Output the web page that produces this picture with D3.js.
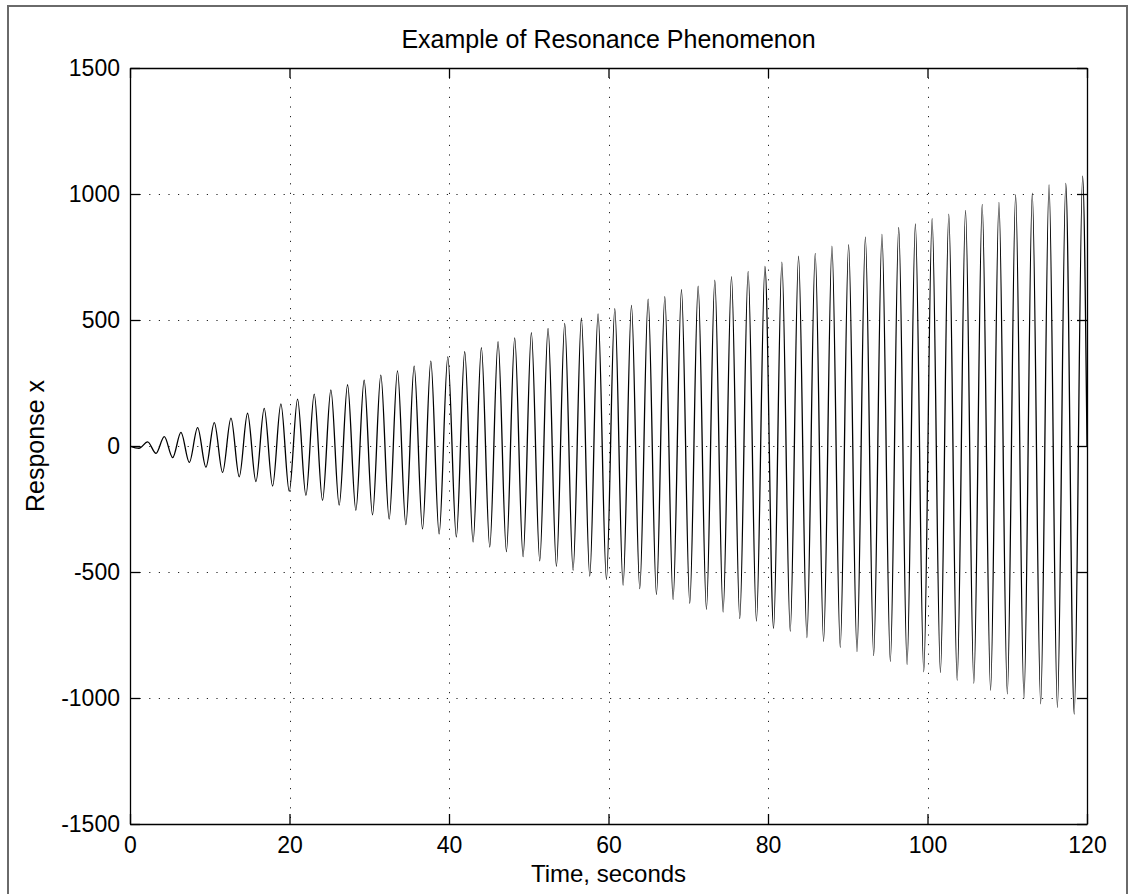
<!DOCTYPE html>
<html>
<head>
<meta charset="utf-8">
<script src="https://cdn.jsdelivr.net/npm/d3@7"></script>
<style>
  html, body { margin: 0; padding: 0; background: #fff; }
  svg { display: block; }
  text { font-family: "Liberation Sans", Arial, Helvetica, sans-serif; fill: #000; }
</style>
</head>
<body>
<svg id="chart" width="1134" height="894"></svg>
<script>
// Extrema (local peaks/troughs) of the response
const timeSeconds = [
  0, 1.13, 2.21, 3.26, 4.30, 5.35, 6.39, 7.44, 8.48, 9.52, 10.57, 11.61, 12.66, 13.70, 14.74,
  15.79, 16.83, 17.88, 18.92, 19.97, 21.01, 22.06, 23.10, 24.14, 25.19, 26.23, 27.28, 28.32,
  29.36, 30.41, 31.45, 32.50, 33.54, 34.59, 35.63, 36.68, 37.72, 38.76, 39.85,
  40.92, 41.97, 43.02, 44.06, 45.11, 46.15, 47.20, 48.24, 49.29, 50.33, 51.38, 52.42, 53.47,
  54.51, 55.56, 56.60, 57.65, 58.69, 59.74, 60.79, 61.83, 62.88, 63.92, 64.97, 66.01, 67.06,
  68.10, 69.15, 70.19, 71.24, 72.28, 73.33, 74.37, 75.42, 76.46, 77.51, 78.55, 79.62,
  80.70, 81.74, 82.79, 83.83, 84.88, 85.92, 86.97, 88.02, 89.06, 90.11, 91.16, 92.21, 93.25,
  94.29, 95.34, 96.39, 97.44, 98.48, 99.53, 100.58, 101.62, 102.67, 103.72, 104.77, 105.81,
  106.86, 107.91, 108.96, 110.01, 111.05, 112.10, 113.14, 114.19, 115.24, 116.29, 117.34,
  118.40, 119.45, 120
];
const responseX = [
  0, -9, 16, -29, 37, -46, 54, -65, 73, -84, 93, -105, 111, -122, 130,
  -141, 149, -159, 167, -180, 186, -196, 206, -216, 223, -235, 243, -255,
  261, -273, 281, -290, 298, -312, 317, -329, 337, -349, 354,
  -361, 374, -381, 390, -401, 414, -419, 429, -439, 450, -456, 467, -478,
  487, -493, 507, -516, 524, -529, 545, -552, 558, -566, 583, -589, 593,
  -609, 620, -624, 634, -648, 658, -659, 672, -685, 693, -695, 713,
  -724, 730, -735, 753, -760, 764, -775, 793, -799, 799, -816, 829, -832,
  840, -855, 867, -867, 881, -896, 902, -899, 920, -930, 935, -942,
  959, -970, 967, -984, 997, -1001, 1003, -1023, 1036, -1038, 1042,
  -1064, 1071, 0
];
const xTicks = [0, 20, 40, 60, 80, 100, 120];
const yTicks = [-1500, -1000, -500, 0, 500, 1000, 1500];
const titleText = "Example of Resonance Phenomenon";
const xLabelText = "Time, seconds";
const yLabelText = "Response x";

const svg = d3.select("#chart");
const W = 1134, H = 894;
const L = 130, R = 1087, T = 68, B = 824;

svg.append("rect").attr("width", W).attr("height", H).attr("fill", "#fff");
// figure frame
svg.append("path")
  .attr("d", `M8,${H} L8,6 L1127,6 L1127,${H}`)
  .attr("fill", "none").attr("stroke", "#6a6a6a").attr("stroke-width", 2);

const x = d3.scaleLinear().domain([0, 120]).range([L, R]);
const y = d3.scaleLinear().domain([-1500, 1500]).range([B, T]);

// grid
const grid = svg.append("g").attr("stroke", "#222").attr("stroke-width", 1)
  .attr("stroke-dasharray", "1.2 8.4");
grid.selectAll(".gx").data(xTicks).join("line")
  .attr("x1", d => Math.round(x(d)) + 0.5).attr("x2", d => Math.round(x(d)) + 0.5)
  .attr("y1", T).attr("y2", B);
grid.selectAll(".gy").data(yTicks).join("line")
  .attr("y1", d => Math.round(y(d)) + 0.5).attr("y2", d => Math.round(y(d)) + 0.5)
  .attr("x1", L).attr("x2", R);

// data line
svg.append("clipPath").attr("id", "clip").append("rect")
  .attr("x", L).attr("y", T).attr("width", R - L).attr("height", B - T);
const pts = timeSeconds.map((t, i) => [t, responseX[i]]);
const line = d3.line().x(d => x(d[0])).y(d => y(d[1])).curve(d3.curveMonotoneX);
svg.append("path").datum(pts)
  .attr("clip-path", "url(#clip)")
  .attr("d", line)
  .attr("fill", "none").attr("stroke", "#000").attr("stroke-width", 1.3);

// axes
const fontSize = 23;
const axB = d3.axisBottom(x).tickValues(xTicks).tickSizeInner(-10).tickSizeOuter(0).tickPadding(13);
const axT = d3.axisTop(x).tickValues(xTicks).tickSizeInner(-10).tickSizeOuter(0).tickFormat("");
const axL = d3.axisLeft(y).tickValues(yTicks).tickSizeInner(-10).tickSizeOuter(0).tickPadding(10)
  .tickFormat(d => String(d));
const axR = d3.axisRight(y).tickValues(yTicks).tickSizeInner(-10).tickSizeOuter(0).tickFormat("");

function styleAxis(g) {
  g.selectAll("path.domain").attr("stroke", "#000").attr("stroke-width", 1.3);
  g.selectAll(".tick line").attr("stroke", "#000").attr("stroke-width", 1.3);
  g.selectAll(".tick text").attr("font-size", fontSize)
    .attr("font-family", "'Liberation Sans', Arial, sans-serif").attr("fill", "#000");
}
svg.append("g").attr("transform", `translate(0,${B})`).call(axB).call(styleAxis);
svg.append("g").attr("transform", `translate(0,${T})`).call(axT).call(styleAxis);
svg.append("g").attr("transform", `translate(${L},0)`).call(axL).call(styleAxis);
svg.append("g").attr("transform", `translate(${R},0)`).call(axR).call(styleAxis);

// titles
svg.append("text").attr("x", (L + R) / 2).attr("y", 48).attr("text-anchor", "middle")
  .attr("font-size", 25).text(titleText);
svg.append("text").attr("x", (L + R) / 2).attr("y", 882).attr("text-anchor", "middle")
  .attr("font-size", 24).text(xLabelText);
svg.append("text").attr("transform", `translate(44,${(T + B) / 2}) rotate(-90)`)
  .attr("text-anchor", "middle").attr("font-size", 25).text(yLabelText);
</script>
</body>
</html>
